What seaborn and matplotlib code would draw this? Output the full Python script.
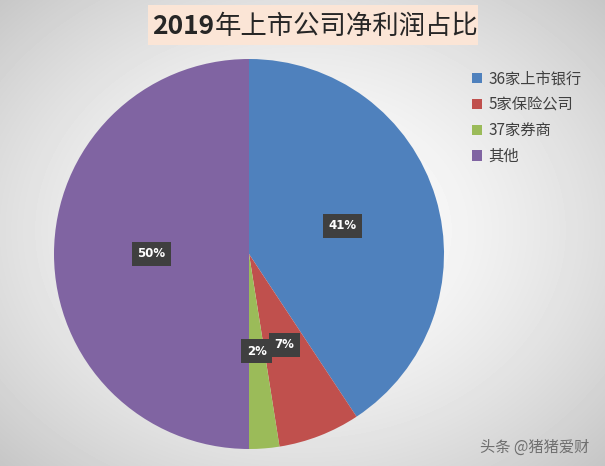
import numpy as np
import matplotlib
matplotlib.use("Agg")
import matplotlib.pyplot as plt
from matplotlib.patches import Rectangle
import seaborn as sns

# data
categories = ["36家上市银行", "5家保险公司", "37家券商", "其他"]
shares = [40.7, 6.8, 2.5, 50.0]
slice_colors = ["#4F81BD", "#C0504D", "#9BBB59", "#8064A2"]
title_year = "2019"
title_rest = "年上市公司净利润占比"
watermark = "头条 @猪猪爱财"

sns.set_theme(style="white")
plt.rcParams['font.family'] = ['Noto Sans CJK SC', 'DejaVu Sans']

fig = plt.figure(figsize=(6.05, 4.66), dpi=100)

# soft radial background like the office chart area
bg = fig.add_axes([0, 0, 1, 1], zorder=0)
yy, xx = np.mgrid[0:466, 0:605]
d = np.sqrt(((xx - 300) / 420.0) ** 2 + ((yy - 230) / 330.0) ** 2)
shade = np.clip(1.0 - 0.22 * d ** 1.6, 0.76, 1.0)
bg.imshow(shade, cmap="gray", vmin=0, vmax=1, aspect="auto", interpolation="bilinear")
bg.axis("off")

ax = fig.add_axes([(249 - 195) / 605, (212 - 195) / 466, 390 / 605, 390 / 466], zorder=1)
palette = sns.color_palette(slice_colors)
wedges, texts, autotexts = ax.pie(
    shares,
    colors=palette,
    startangle=90,
    counterclock=False,
    radius=1,
    autopct=lambda p: f"{p:.0f}%",
    pctdistance=0.5,
    wedgeprops=dict(linewidth=0),
)
for t in autotexts:
    t.set_color("white")
    t.set_fontsize(8.5)
    t.set_fontweight("bold")
    t.set_family(["DejaVu Sans"])
    t.set_bbox(dict(boxstyle="square,pad=0.45", facecolor="#3f3f3f", edgecolor="none"))
ax.set_xlim(-1, 1)
ax.set_ylim(-1, 1)
ax.set_aspect("equal")
ax.axis("off")

leg = fig.legend(
    wedges, categories,
    loc="upper left", bbox_to_anchor=(458 / 605, 1 - 57 / 466),
    frameon=False, fontsize=11, handlelength=0.65, handleheight=0.65,
    handletextpad=0.45, labelspacing=0.57, labelcolor="#404040",
)

# title: bold year, regular chinese, on a peach band
fig.patches.append(Rectangle((148 / 605, 1 - 45 / 466), 330 / 605, 40 / 466,
                             transform=fig.transFigure, facecolor="#FBE5D6",
                             edgecolor="none", zorder=2))
ty = fig.text(152 / 605, 1 - 26 / 466, title_year, ha="left", va="center",
              fontsize=19, fontweight="bold", color="#262626", zorder=3)
fig.canvas.draw()
ext = ty.get_window_extent()
fig.text(ext.x1 / 605 + 1 / 605, 1 - 26 / 466, title_rest, ha="left", va="center",
         fontsize=19, color="#262626", zorder=3)

fig.text(535 / 605, 1 - 447 / 466, watermark, ha="center", va="center",
         fontsize=11, color="#6f6f6f")

plt.savefig("out.png", dpi=100)
plt.close()
